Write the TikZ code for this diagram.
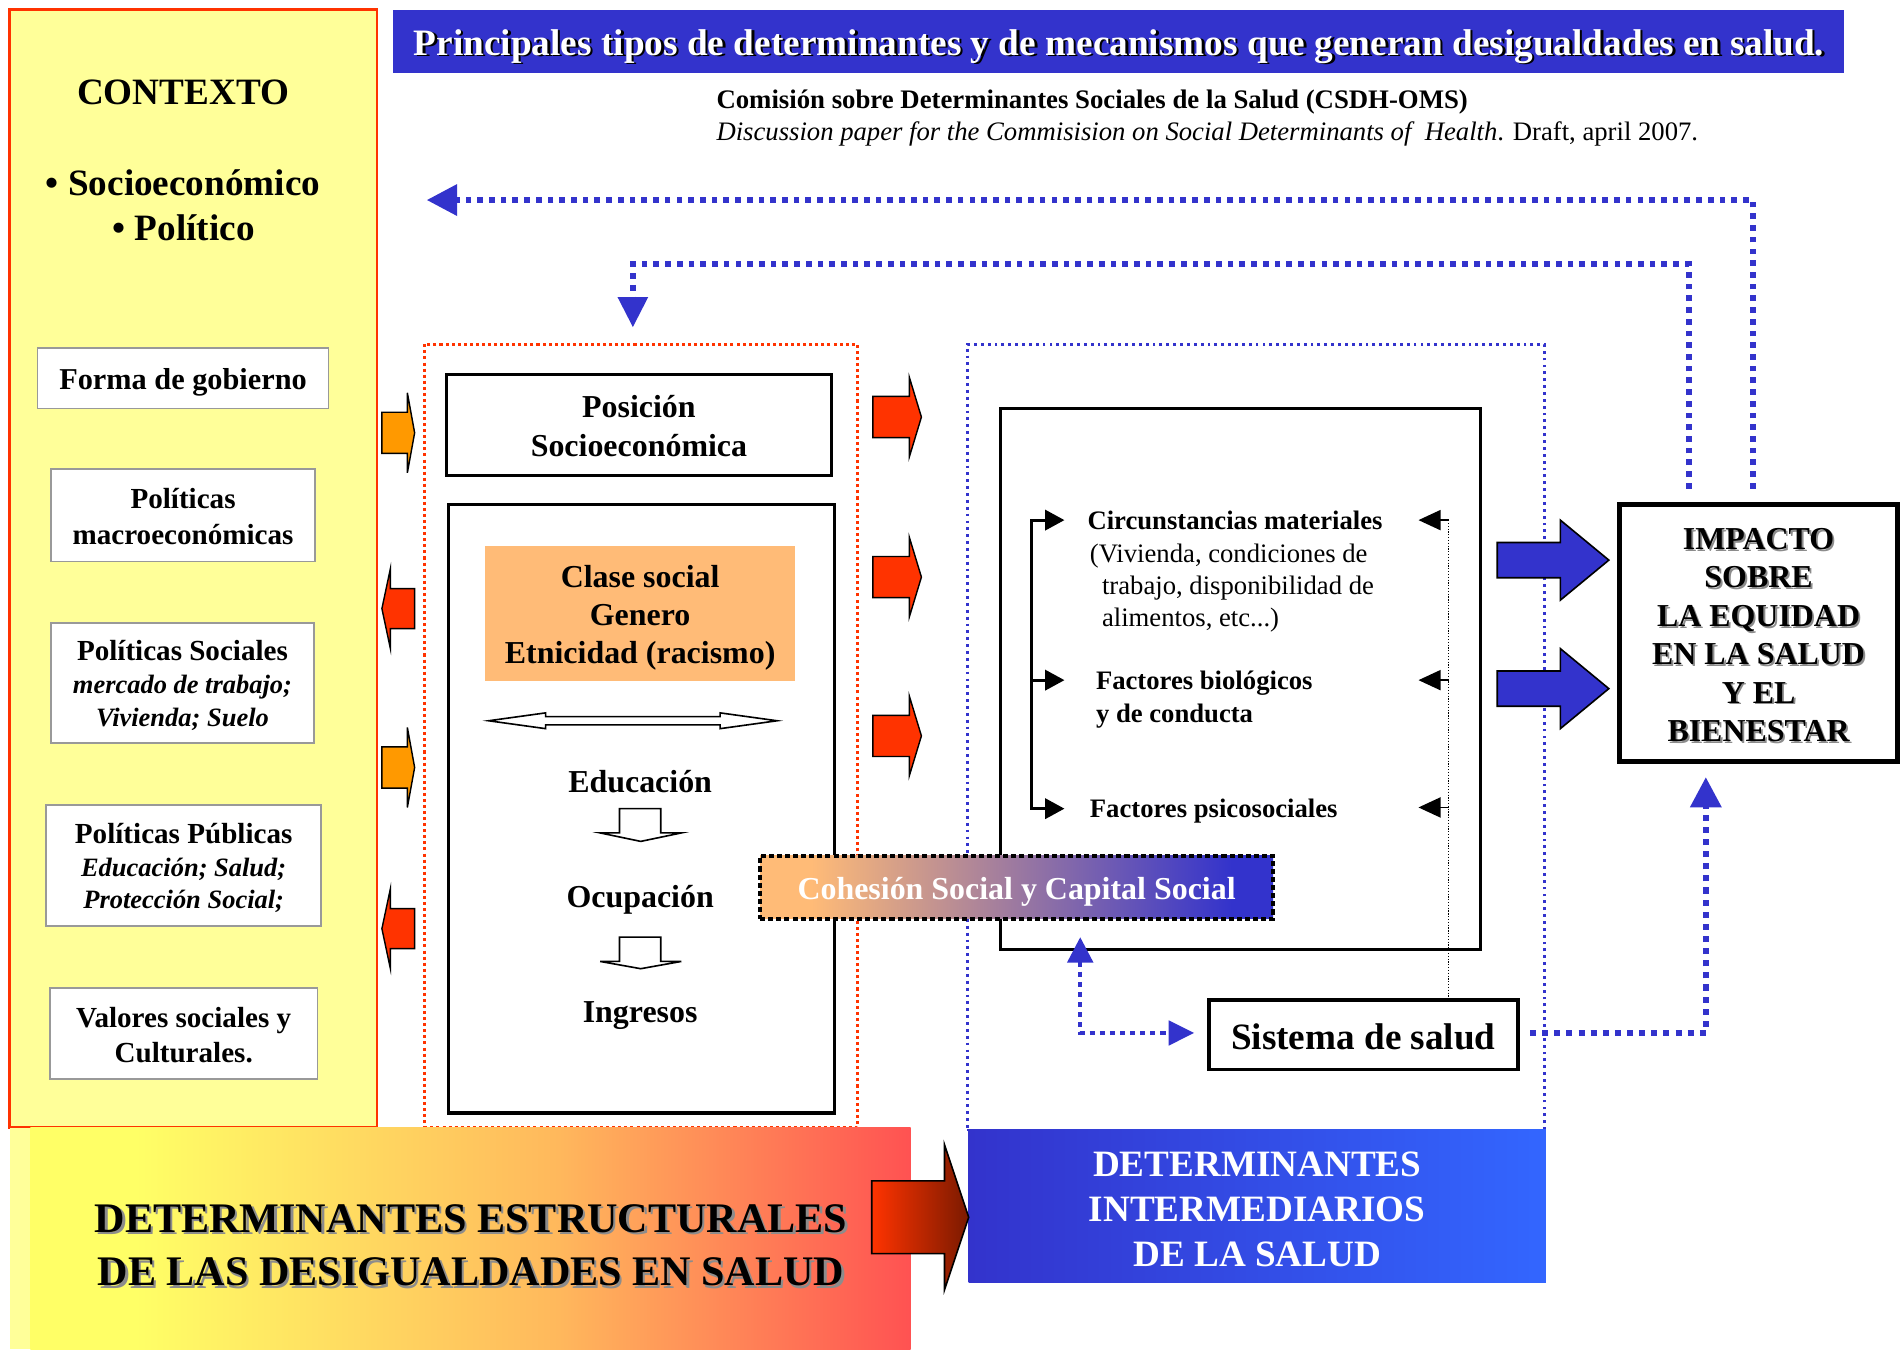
\documentclass[tikz,border=0pt]{standalone}
\usepackage{fontspec}
\setmainfont{Liberation Serif}
\usetikzlibrary{arrows.meta}
\definecolor{tblue}{HTML}{3333CC}
\definecolor{ylw}{HTML}{FFFF99}
\definecolor{redc}{HTML}{FF3300}
\definecolor{orng}{HTML}{FF9900}
\definecolor{peach}{HTML}{FFBB77}
\definecolor{gbord}{HTML}{999999}
\definecolor{bandA}{HTML}{FFFF66}
\definecolor{bandB}{HTML}{FFB85C}
\definecolor{bandC}{HTML}{FF5252}
\definecolor{bblueL}{HTML}{3333CC}
\definecolor{bblueR}{HTML}{3366FF}
\definecolor{darkred}{HTML}{7A1A00}
\pgfdeclarehorizontalshading{bandshade}{100bp}{color(0bp)=(bandA); color(25bp)=(bandA); color(31bp)=(bandA); color(55bp)=(bandB); color(75bp)=(bandC); color(100bp)=(bandC)}
\pgfdeclarehorizontalshading{cohshade}{100bp}{color(0bp)=(peach); color(25bp)=(peach); color(30bp)=(peach); color(71bp)=(tblue); color(75bp)=(tblue); color(100bp)=(tblue)}
\newcommand\ST{\rule[-0.18\baselineskip]{0pt}{\baselineskip}}
\newcommand\fs[2]{\fontsize{#1}{#2}\selectfont}
\newcommand\blockarrow[7]{\draw[#1] (#2,#5-#6) -- (#3,#5-#6) -- (#3,#5-#7) -- (#4,#5) -- (#3,#5+#7) -- (#3,#5+#6) -- (#2,#5+#6) -- cycle;}
\tikzset{
  lbox/.style={draw=gbord, line width=0.8pt, fill=white, inner sep=0pt, outer sep=0pt, align=center, font=\bfseries\fs{14.4}{17.4}},
  bbox/.style={draw=black, line width=1.6pt, fill=white, inner sep=0pt, outer sep=0pt, align=center},
  txt/.style={inner sep=0pt, outer sep=0pt},
  blk/.style={draw=black, line width=0.7pt},
  hollow/.style={draw=black, line width=0.8pt, fill=white, line join=miter},
  dotA/.style={draw=tblue, line width=2.8pt, dash pattern=on 2.8pt off 3pt},
  dotB/.style={draw=tblue, line width=3pt, dash pattern=on 3pt off 3pt},
  dotC/.style={draw=tblue, line width=2pt, dash pattern=on 2.5pt off 2.5pt},
  brk/.style={draw=black, line width=1.5pt},
}
\begin{document}
\begin{tikzpicture}[x=0.6pt,y=-0.6pt]
\useasboundingbox (0,0) rectangle (1568,1113);
\fill[white] (0,0) rectangle (1568,1113);

% ---------- context column ----------
\node[draw=redc, line width=1.2pt, fill=ylw, minimum width=181.8pt, minimum height=553.2pt, inner sep=0pt, outer sep=0pt] (ctx) at (159.5,469) {};
\fill[ylw] (8,930) rectangle (25,1113);
\node[txt, font=\bfseries\fs{18.4}{22}, anchor=base] (ctxT) at (151,86) {CONTEXTO};
\node[txt, font=\bfseries\fs{18.4}{22}, anchor=base] (ctxS) at (151,161) {• Socioeconómico};
\node[txt, font=\bfseries\fs{18.4}{22}, anchor=base] (ctxP) at (151.5,198) {• Político};

\node[lbox, minimum width=144pt, minimum height=30pt, font=\bfseries\fs{15}{17.4}] (forma) at (151,312) {\ST Forma de gobierno};
\node[lbox, minimum width=130.8pt, minimum height=45.6pt] (macro) at (151,425) {\ST Políticas\\\ST macroeconómicas};
\node[lbox, minimum width=130.2pt, minimum height=59.4pt, font=\bfseries\fs{14.4}{16.2}] (psoc) at (150.5,563.5)
  {\ST Políticas Sociales\\\ST{\itshape\fs{13.1}{16.2}mercado de trabajo;}\\\ST{\itshape\fs{13.1}{16.2}Vivienda; Suelo}};
\node[lbox, minimum width=136.2pt, minimum height=60pt, font=\bfseries\fs{14.4}{16.2}] (ppub) at (151.5,714)
  {\ST Políticas Públicas\\\ST{\itshape\fs{13.1}{16.2}Educación; Salud;}\\\ST{\itshape\fs{13.1}{16.2}Protección Social;}};
\node[lbox, minimum width=132.6pt, minimum height=45pt] (valores) at (151.5,852.5) {\ST Valores sociales y\\\ST Culturales.};

% small arrows between context and structural box
\blockarrow{blk, fill=orng}{315}{336}{342}{357}{17}{33}
\blockarrow{blk, fill=redc}{342}{322}{315}{502}{16.5}{33}
\blockarrow{blk, fill=orng}{315}{336}{342}{633}{17}{33}
\blockarrow{blk, fill=redc}{342}{322}{315}{766}{16.5}{33}

% ---------- title ----------
\node[fill=tblue, minimum width=718.2pt, minimum height=31.2pt, inner sep=0pt] (titlebar) at (922.5,34) {};
\node[txt, font=\bfseries\fs{18.45}{22}, text=black, anchor=base] (titleS) at (925,47) {Principales tipos de determinantes y de mecanismos que generan desigualdades en salud.};
\node[txt, font=\bfseries\fs{18.45}{22}, text=white, anchor=base] (title) at (923,45.5) {Principales tipos de determinantes y de mecanismos que generan desigualdades en salud.};
\node[txt, font=\bfseries\fs{13.25}{16}, anchor=base west] (sub1) at (591,89.7) {Comisión sobre Determinantes Sociales de la Salud (CSDH-OMS)};
\node[txt, font=\fs{13.2}{16}, anchor=base west] (sub2) at (591,115.6) {\textit{Discussion paper for the Commisision on Social Determinants of~ Health}. Draft, april 2007.};

% ---------- feedback arrows (top) ----------
\coordinate (oStart) at (1446,403);
\coordinate (oEnd) at (352,165);
\coordinate (iStart) at (1393,403);
\coordinate (iCorner) at (522,218);
\coordinate (iEnd) at (522,270);
\draw[dotA, -{Triangle[length=15pt,width=15pt]}] (oStart) |- (oEnd);
\draw[dotA, -{Triangle[length=15pt,width=14.4pt]}] (iStart) |- (iCorner) -- (iEnd);

% ---------- dotted frames ----------
\node[draw=redc, line width=1.5pt, dash pattern=on 1.5pt off 1.5pt, minimum width=214.2pt, minimum height=387.6pt, inner sep=0pt] (redbox) at (528.5,607) {};
\node[draw=tblue, line width=1.4pt, dash pattern=on 1.4pt off 2pt, minimum width=285.6pt, minimum height=388.8pt, inner sep=0pt] (bluebox) at (1036,608) {};

% ---------- structural column ----------
\node[bbox, minimum width=190.8pt, minimum height=49.8pt, font=\bfseries\fs{15.8}{19.2}] (pos) at (527,350.5) {\ST Posición\\\ST Socioeconómica};
\node[bbox, minimum width=190.8pt, minimum height=301.2pt] (strat) at (529,667) {};
\node[fill=peach, minimum width=153.6pt, minimum height=67.2pt, inner sep=0pt, align=center, font=\bfseries\fs{15.8}{18.9}] (clase) at (528,506) {\ST Clase social\\\ST Genero\\\ST Etnicidad (racismo)};
\draw[hollow] (403,594.5) -- (450,588) -- (450,591.1) -- (594,591.1) -- (594,588) -- (641,594.5) -- (594,601) -- (594,597.9) -- (450,597.9) -- (450,601) -- cycle;
\node[txt, font=\bfseries\fs{15.8}{19}, anchor=base] (edu) at (528,653.6) {Educación};
\draw[hollow] (511,667) -- (545,667) -- (545,687) -- (562,687) -- (528.5,694) -- (495,687) -- (511,687) -- cycle;
\node[txt, font=\bfseries\fs{15.8}{19}, anchor=base] (ocu) at (528,748.6) {Ocupación};
\draw[hollow] (511,773) -- (545,773) -- (545,793) -- (562,793) -- (528.5,799) -- (495,793) -- (511,793) -- cycle;
\node[txt, font=\bfseries\fs{15.8}{19}, anchor=base] (ing) at (528,843.4) {Ingresos};

% red arrows to intermediary
\blockarrow{blk, fill=redc}{720}{750}{760}{344}{17}{33}
\blockarrow{blk, fill=redc}{720}{750}{760}{476}{17}{33}
\blockarrow{blk, fill=redc}{720}{750}{760}{607}{17}{33}

% ---------- intermediary box ----------
\node[bbox, minimum width=237.6pt, minimum height=267.6pt] (inter) at (1023,560) {};
\node[txt, font=\bfseries\fs{13.2}{16}, anchor=base west] (circ) at (897,436.6) {Circunstancias materiales};
\node[txt, font=\fs{13.2}{16}, anchor=base west] (circ2) at (899,463.6) {(Vivienda, condiciones de};
\node[txt, font=\fs{13.2}{16}, anchor=base west] (circ3) at (909,490.6) {trabajo, disponibilidad de};
\node[txt, font=\fs{13.2}{16}, anchor=base west] (circ4) at (909,516.6) {alimentos, etc...)};
\node[txt, font=\bfseries\fs{13.2}{16}, anchor=base west] (bio) at (904,568.6) {Factores biológicos};
\node[txt, font=\bfseries\fs{13.2}{16}, anchor=base west] (bio2) at (904,595.6) {y de conducta};
\node[txt, font=\bfseries\fs{13.2}{16}, anchor=base west] (psi) at (899,674.6) {Factores psicosociales};

\coordinate (bT) at (851,429);
\coordinate (bM) at (851,561);
\coordinate (bB) at (851,667);
\coordinate (aT) at (878,429);
\coordinate (aM) at (878,561);
\coordinate (aB) at (878,667);
\draw[brk, {Triangle[length=9.6pt,width=10pt]}-{Triangle[length=9.6pt,width=10pt]}] (aT) -- (bT) -- (bB) -- (aB);
\draw[brk, -{Triangle[length=9.6pt,width=10pt]}] (bM) -- (aM);

% Sistema de salud
\node[bbox, line width=1.8pt, minimum width=153pt, minimum height=34.2pt, font=\bfseries\fs{18.4}{22}] (sis) at (1124.5,853.5) {\ST Sistema de salud};

\coordinate (rT) at (1195,429);
\coordinate (rM) at (1195,561);
\coordinate (rB) at (1195,666);
\coordinate (rTe) at (1170,429);
\coordinate (rMe) at (1170,561);
\coordinate (rBe) at (1170,666);
\draw[line width=0.6pt, dash pattern=on 0.6pt off 0.8pt] (rT) -- (rT |- sis.north);
\draw[line width=0.8pt, -{Triangle[length=11pt,width=10pt]}] (rT) -- (rTe);
\draw[line width=0.8pt, -{Triangle[length=11pt,width=10pt]}] (rM) -- (rMe);
\draw[line width=0.8pt, -{Triangle[length=11pt,width=10pt]}] (rB) -- (rBe);

% Cohesion social
\node[shade, shading=cohshade, draw=black, line width=2pt, dash pattern=on 2.5pt off 1.5pt, minimum width=253.8pt, minimum height=31.2pt, inner sep=0pt, text=white, font=\bfseries\fs{15.8}{19}] (coh) at (838.5,732) {\ST Cohesión Social y Capital Social};

\coordinate (cohTip) at (891,773);
\coordinate (sisIn) at (985,852);
\draw[dotC, {Triangle[length=12.6pt,width=12.6pt]}-{Triangle[length=12.6pt,width=12pt]}] (cohTip) |- (sisIn);

% ---------- impact ----------
\node[bbox, line width=2.5pt, minimum width=137.4pt, minimum height=127.2pt] (impact) at (1450.5,522) {};
\node[txt, align=center, font=\bfseries\fs{15.8}{19}, text=black!45] (impS) at (1452,523.8) {\ST IMPACTO\\\ST SOBRE\\\ST LA EQUIDAD\\\ST EN LA SALUD\\\ST Y EL\\\ST BIENESTAR};
\node[txt, align=center, font=\bfseries\fs{15.8}{19}] (impT) at (1450.5,522.3) {\ST IMPACTO\\\ST SOBRE\\\ST LA EQUIDAD\\\ST EN LA SALUD\\\ST Y EL\\\ST BIENESTAR};

\blockarrow{draw=black, line width=0.8pt, fill=tblue}{1235}{1287}{1327}{462}{14.5}{33}
\blockarrow{draw=black, line width=0.8pt, fill=tblue}{1235}{1287}{1327}{568}{14.5}{33}

\coordinate (sisOut) at (1262,852);
\coordinate (impIn) at (1407,641);
\draw[dotB, -{Triangle[length=15pt,width=15pt]}] (sisOut) -| (impIn);

% ---------- bottom bands ----------
\node[shade, shading=bandshade, minimum width=435.6pt, minimum height=109.8pt, inner sep=0pt] (band) at (388,1021.5) {};
\node[txt, align=center, font=\bfseries\fs{20.85}{26.4}, text=black!45] (bandS) at (390.5,1026.3) {\ST DETERMINANTES ESTRUCTURALES\\\ST DE LAS DESIGUALDADES EN SALUD};
\node[txt, align=center, font=\bfseries\fs{20.85}{26.4}] (bandT) at (388.5,1024.3) {\ST DETERMINANTES ESTRUCTURALES\\\ST DE LAS DESIGUALDADES EN SALUD};

\node[shade, left color=bblueL, right color=bblueR, minimum width=285.6pt, minimum height=75.6pt, inner sep=0pt] (iband) at (1037,995) {};
\node[txt, align=center, font=\bfseries\fs{18.4}{22.2}, text=white] (ibandT) at (1037,995.4) {\ST DETERMINANTES\\\ST INTERMEDIARIOS\\\ST DE LA SALUD};

\shade[left color=redc, right color=darkred, draw=black, line width=0.8pt] (719,974) -- (779,974) -- (779,944) -- (799,1004) -- (779,1064) -- (779,1034) -- (719,1034) -- cycle;
\end{tikzpicture}
\end{document}
